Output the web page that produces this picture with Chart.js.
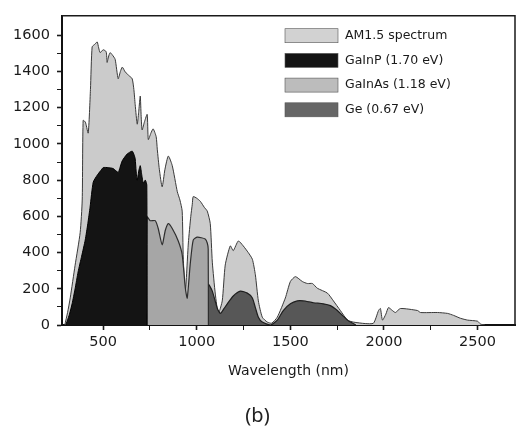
<!DOCTYPE html>
<html>
<head>
<meta charset="utf-8">
<title>AM1.5 spectrum and sub-cell absorption</title>
<script src="https://cdn.jsdelivr.net/npm/chart.js@4.4.0/dist/chart.umd.min.js"></script>
<style>
  html, body { margin: 0; padding: 0; background: #fff; }
</style>
</head>
<body>
<canvas id="spectrum-chart" width="518" height="430"></canvas>
<script>
// Values (wavelength in nm, spectral power in W/m2/um).
var seriesLabels = ['AM1.5 spectrum', 'GaInP (1.70 eV)', 'GaInAs (1.18 eV)', 'Ge (0.67 eV)'];

var am15Wavelength = [295, 310, 324, 350, 377, 388, 393, 405, 420, 432, 441, 455, 468, 476, 484, 500,
    516, 521, 528, 537, 550, 564, 580, 592, 602, 618, 640, 655, 664, 671, 682, 690, 698, 703, 708, 720,
    735, 741, 755, 767, 783, 789, 800, 815, 830, 848, 869, 896, 910, 922, 928, 939, 955, 968, 976, 981,
    1000, 1019, 1040, 1056, 1072, 1083, 1099, 1115, 1136, 1152, 1179, 1195, 1222, 1248, 1275, 1297,
    1313, 1329, 1350, 1377, 1400, 1430, 1473, 1500, 1527, 1564, 1591, 1618, 1644, 1698, 1730, 1767,
    1805, 1837, 1900, 1944, 1971, 1981, 1992, 2010, 2024, 2045, 2061, 2088, 2179, 2195, 2286, 2340,
    2372, 2409, 2447, 2500, 2516, 2540];
var am15Power = [0, 70, 150, 330, 510, 690, 1130, 1120, 1060, 1300, 1536, 1550, 1563, 1530, 1504, 1520,
    1509, 1450, 1480, 1504, 1490, 1467, 1360, 1400, 1424, 1397, 1375, 1360, 1300, 1216, 1109, 1180, 1264,
    1150, 1077, 1120, 1163, 1024, 1060, 1083, 1040, 971, 860, 763, 860, 933, 880, 736, 690, 629, 363, 187,
    453, 600, 667, 709, 700, 683, 650, 629, 560, 347, 171, 64, 133, 331, 437, 411, 464, 437, 400, 363,
    277, 133, 43, 16, 10, 43, 149, 240, 267, 240, 229, 229, 203, 176, 133, 80,
    27, 16, 8, 10, 80, 91, 27, 60, 96, 80, 69, 91, 80, 69, 69, 64,
    53, 37, 27, 21, 5, 0];

var gainpWavelength = [300, 307, 320, 334, 350, 366, 385, 404, 418, 430, 447, 468, 485, 500, 527, 553,
    580, 590, 602, 628, 655, 665, 671, 676, 682, 690, 698, 706, 714, 725, 733, 734];
var gainpPower = [0, 20, 60, 117, 200, 293, 380, 469, 560, 651, 789, 827, 850, 869, 869, 864,
    843, 870, 907, 944, 960, 940, 917, 850, 800, 850, 880, 830, 784, 800, 773, 0];

var gainasWavelength = [734, 735, 751, 778, 794, 815, 832, 848, 869, 901, 922, 939, 949, 965, 981, 1003,
    1045, 1056, 1061, 1062];
var gainasPower = [0, 597, 576, 576, 533, 443, 523, 560, 533, 464, 389, 203, 149, 336, 469, 485,
    475, 453, 420, 0];

var geWavelength = [1061, 1062, 1083, 1110, 1126, 1145, 1163, 1195, 1233, 1270, 1297, 1313, 1329, 1350,
    1393, 1430, 1462, 1500, 1537, 1569, 1623, 1676, 1714, 1751, 1778, 1805, 1821, 1850];
var gePower = [0, 224, 187, 91, 64, 90, 117, 160, 187, 176, 149, 96, 43, 16,
    0, 27, 80, 117, 133, 133, 123, 117, 107, 80, 53, 27, 16, 0];

var xTickValues = [500, 750, 1000, 1250, 1500, 1750, 2000, 2250, 2500];
var yTickValues = [0, 100, 200, 300, 400, 500, 600, 700, 800, 900, 1000, 1100, 1200, 1300, 1400, 1500, 1600];

var textColor = '#1a1a1a';
var tickFont = { family: 'DejaVu Sans', size: 14.5 };

/**
 * Zip two parallel arrays into {x, y} points.
 */
function toPoints(xs, ys) {
    return xs.map(function (x, i) {
        return { x: x, y: ys[i] };
    });
}

// Frame on top and right of the plot, the library only draws the axis borders.
var framePlugin = {
    id: 'frame',
    afterDraw: function (chart) {
        var ctx = chart.ctx;
        var area = chart.chartArea;
        ctx.save();
        ctx.strokeStyle = '#1a1a1a';
        ctx.lineWidth = 1.5;
        ctx.beginPath();
        ctx.moveTo(area.left, area.top);
        ctx.lineTo(area.right, area.top);
        ctx.lineTo(area.right, area.bottom);
        ctx.stroke();
        ctx.restore();
    }
};

// Legend boxes sitting inside the plot, top right.
var insideLegendPlugin = {
    id: 'insideLegend',
    afterDraw: function (chart) {
        var ctx = chart.ctx;
        var area = chart.chartArea;
        var x = area.left + 223;
        var y = area.top + 20;
        ctx.save();
        ctx.font = '12.5px "DejaVu Sans"';
        ctx.textBaseline = 'middle';
        chart.data.datasets.forEach(function (ds, i) {
            var cy = y + i * 24.7;
            ctx.fillStyle = ds.legendColor;
            ctx.fillRect(x, cy - 7, 53, 14);
            ctx.strokeStyle = '#555';
            ctx.lineWidth = 0.6;
            ctx.strokeRect(x, cy - 7, 53, 14);
            ctx.fillStyle = textColor;
            ctx.fillText(ds.label, x + 60, cy);
        });
        ctx.restore();
    }
};

var ctx = document.getElementById('spectrum-chart');
var config = {
    type: 'line',
    data: {
        datasets: [
            {
                label: seriesLabels[0],
                data: toPoints(am15Wavelength, am15Power),
                backgroundColor: '#cbcbcb',
                legendColor: '#d2d2d2',
                borderColor: '#3a3a3a',
                borderWidth: 1,
                fill: 'origin',
                order: 1
            },
            {
                label: seriesLabels[1],
                data: toPoints(gainpWavelength, gainpPower),
                backgroundColor: '#141414',
                legendColor: '#141414',
                borderColor: '#000',
                borderWidth: 1,
                fill: 'origin',
                order: 0
            },
            {
                label: seriesLabels[2],
                data: toPoints(gainasWavelength, gainasPower),
                backgroundColor: '#a6a6a6',
                legendColor: '#bcbcbc',
                borderColor: '#2e2e2e',
                borderWidth: 1.2,
                fill: 'origin',
                order: 0
            },
            {
                label: seriesLabels[3],
                data: toPoints(geWavelength, gePower),
                backgroundColor: '#575757',
                legendColor: '#666666',
                borderColor: '#1e1e1e',
                borderWidth: 1.2,
                fill: 'origin',
                order: 0
            }
        ]
    },
    options: {
        responsive: false,
        animation: false,
        layout: {
            padding: { top: 5, right: 3, left: 0, bottom: 0 }
        },
        elements: {
            point: { radius: 0 },
            line: { tension: 0.2 }
        },
        plugins: {
            legend: { display: false },
            tooltip: { enabled: false },
            title: {
                display: true,
                position: 'bottom',
                text: '(b)',
                color: '#222',
                font: { family: 'Noto Sans', size: 20, weight: 'normal' },
                padding: { top: 19, bottom: 2 }
            }
        },
        scales: {
            x: {
                type: 'linear',
                min: 280,
                max: 2700,
                z: 1,
                afterFit: function (scale) {
                    scale.height = 60;
                },
                afterBuildTicks: function (scale) {
                    scale.ticks = xTickValues.map(function (v) {
                        return { value: v };
                    });
                },
                ticks: {
                    autoSkip: false,
                    maxRotation: 0,
                    padding: 4,
                    color: textColor,
                    font: tickFont,
                    callback: function (value) {
                        return value % 500 === 0 ? value : '';
                    }
                },
                grid: {
                    drawOnChartArea: false,
                    drawTicks: true,
                    tickLength: 5,
                    tickColor: '#1a1a1a',
                    tickWidth: function (c) {
                        return c.tick && c.tick.value % 500 === 0 ? 1.6 : 1;
                    }
                },
                border: { display: true, color: '#111', width: 2 },
                title: {
                    display: true,
                    text: 'Wavelength (nm)',
                    color: textColor,
                    font: { family: 'DejaVu Sans', size: 14 },
                    padding: { top: 4, bottom: 5 }
                }
            },
            y: {
                min: 0,
                max: 1708,
                z: 1,
                afterFit: function (scale) {
                    scale.width = 62;
                },
                afterBuildTicks: function (scale) {
                    scale.ticks = yTickValues.map(function (v) {
                        return { value: v };
                    });
                },
                ticks: {
                    autoSkip: false,
                    padding: 7,
                    color: textColor,
                    font: tickFont,
                    callback: function (value) {
                        return value % 200 === 0 ? value : '';
                    }
                },
                grid: {
                    drawOnChartArea: false,
                    drawTicks: true,
                    tickLength: 5,
                    tickColor: '#1a1a1a',
                    tickWidth: function (c) {
                        return c.tick && c.tick.value % 200 === 0 ? 1.6 : 1;
                    }
                },
                border: { display: true, color: '#111', width: 2 }
            }
        }
    },
    plugins: [framePlugin, insideLegendPlugin]
};

var chartSpectrum = new Chart(ctx, config);
</script>
</body>
</html>
